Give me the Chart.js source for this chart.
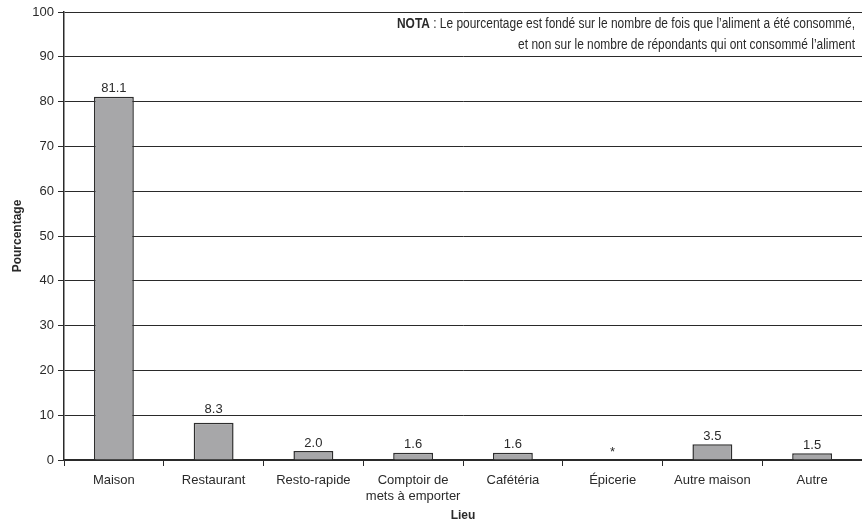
<!DOCTYPE html>
<html>
<head>
<meta charset="utf-8">
<script src="https://cdn.jsdelivr.net/npm/chart.js@4/dist/chart.umd.min.js"></script>
<style>
  html, body { margin: 0; padding: 0; background: #fff; }
  #wrap { width: 862px; height: 527px; }
</style>
</head>
<body>
<div id="wrap"><canvas id="myChart" width="862" height="527"></canvas></div>
<script>
// chart data
var categories = ["Maison", "Restaurant", "Resto-rapide", ["Comptoir de", "mets à emporter"], "Cafétéria", "Épicerie", "Autre maison", "Autre"];
var values = [81.1, 8.3, 2.0, 1.6, 1.6, null, 3.5, 1.5];
var valueLabels = ["81.1", "8.3", "2.0", "1.6", "1.6", "*", "3.5", "1.5"];
var yMin = 0, yMax = 100, yStep = 10;
var noteLines = [
  ["NOTA", " : Le pourcentage est fondé sur le nombre de fois que l’aliment a été consommé,"],
  ["", "et non sur le nombre de répondants qui ont consommé l’aliment"]
];

var ink = "#2a2a2a";
var baseFont = "Liberation Sans, Arial, sans-serif";

// labels above bars (and the "*" for missing value)
var valueLabelPlugin = {
  id: "valueLabels",
  afterDatasetsDraw: function (chart) {
    var c = chart.ctx;
    var meta = chart.getDatasetMeta(0);
    var yScale = chart.scales.y;
    c.save();
    c.font = "13px " + baseFont;
    c.fillStyle = ink;
    c.textAlign = "center";
    c.textBaseline = "middle";
    meta.data.forEach(function (bar, i) {
      var v = values[i];
      var top = v == null ? yScale.getPixelForValue(0) : bar.y;
      var y = top - 8;
      // keep the label off a grid line
      for (var t = yMin + yStep; t < yMax; t += yStep) {
        var gy = yScale.getPixelForValue(t);
        if (v != null && Math.abs(y - gy) < 7) y = gy - 6;
      }
      c.fillText(valueLabels[i], bar.x, y);
    });
    c.restore();
  }
};

// note in the upper right corner
var notePlugin = {
  id: "note",
  afterDraw: function (chart) {
    var c = chart.ctx;
    var right = 855;
    var firstWidth = 458;
    var ys = [24, 45];
    var fam = "'Liberation Sans', sans-serif";
    var size = "14px ";
    c.save();
    c.font = "bold " + size + fam;
    var wa = c.measureText(noteLines[0][0]).width;
    c.font = size + fam;
    var wb = c.measureText(noteLines[0][1]).width;
    var sx = firstWidth / (wa + wb);
    c.fillStyle = ink;
    c.textBaseline = "middle";
    c.textAlign = "left";
    noteLines.forEach(function (ln, i) {
      c.font = "bold " + size + fam;
      var w1 = c.measureText(ln[0]).width * sx;
      c.font = size + fam;
      var w2 = c.measureText(ln[1]).width * sx;
      var x = right - w1 - w2;
      c.save();
      c.translate(x, ys[i]);
      c.scale(sx, 1);
      c.font = "bold " + size + fam;
      c.fillText(ln[0], 0, 0);
      c.font = size + fam;
      c.fillText(ln[1], w1 / sx, 0);
      c.restore();
    });
    c.restore();
  }
};

var ctx = document.getElementById("myChart").getContext("2d");
var chart = new Chart(ctx, {
  type: "bar",
  data: {
    labels: categories,
    datasets: [
      {
        data: values,
        backgroundColor: "#a7a7a9",
        borderColor: "#2e2e2e",
        borderWidth: 1.5,
        borderSkipped: "bottom",
        barPercentage: 0.4,
        categoryPercentage: 1.0
      }
    ]
  },
  options: {
    responsive: false,
    animation: false,
    layout: { padding: { top: 12, right: 0, left: 0, bottom: 0 } },
    plugins: {
      legend: { display: false },
      tooltip: { enabled: false }
    },
    scales: {
      x: {
        grid: {
          offset: true,
          drawOnChartArea: false,
          color: ink,
          tickLength: 6
        },
        border: { color: ink, width: 1.5 },
        ticks: {
          color: ink,
          font: { size: 13, family: baseFont, lineHeight: 1.25 },
          maxRotation: 0,
          padding: 6
        },
        title: {
          display: true,
          text: "Lieu",
          color: ink,
          font: { size: 12, weight: "bold", family: baseFont },
          padding: { top: 6 }
        },
        afterFit: function (scale) { scale.height = 67; }
      },
      y: {
        min: yMin,
        max: yMax,
        ticks: {
          stepSize: yStep,
          color: ink,
          font: { size: 13, family: baseFont },
          padding: 4
        },
        grid: {
          color: ink,
          lineWidth: 1,
          tickLength: 6
        },
        border: { color: ink, width: 1.5 },
        title: {
          display: true,
          text: "Pourcentage",
          color: ink,
          font: { size: 12, weight: "bold", family: baseFont },
          padding: { top: 10, bottom: 4 }
        },
        afterFit: function (scale) { scale.width = 64; }
      }
    }
  },
  plugins: [valueLabelPlugin, notePlugin]
});
</script>
</body>
</html>
